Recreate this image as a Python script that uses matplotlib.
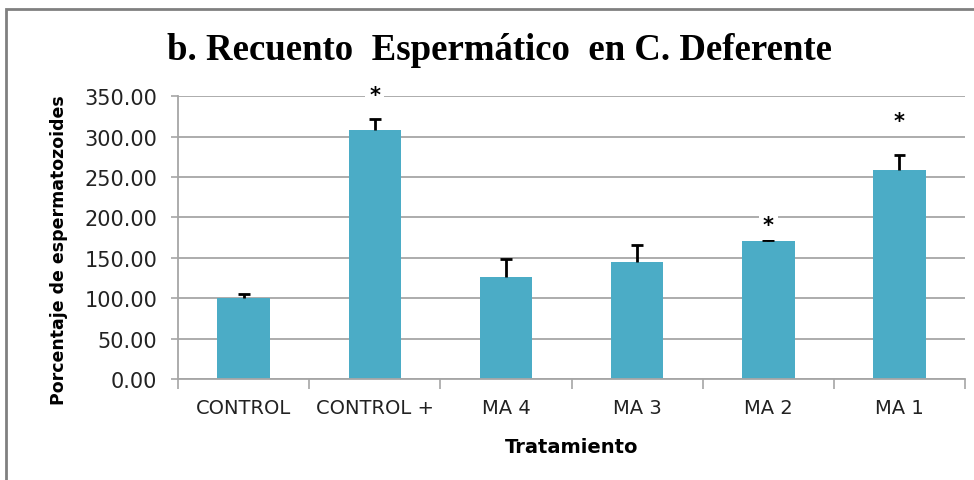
import matplotlib.pyplot as plt
from matplotlib.patches import Rectangle

categories = ["CONTROL", "CONTROL +", "MA 4", "MA 3", "MA 2", "MA 1"]
means = [100.0, 308.3, 125.8, 145.0, 170.7, 258.9]
errors = [5.0, 14.0, 22.6, 21.0, 1.5, 18.0]
star_index = [1, 4, 5]
star_y = [352, 190, 319]
yticks = [0, 50, 100, 150, 200, 250, 300, 350]

BAR_COLOR = "#4BACC6"
GRID_COLOR = "#A6A6A6"

fig = plt.figure(figsize=(9.74, 4.81), dpi=100)
ax = fig.add_axes([0.1828, 0.210, 0.808, 0.588])

x = list(range(len(categories)))
tops = [m + e for m, e in zip(means, errors)]
ax.bar(x, means, width=0.4, color=BAR_COLOR, zorder=2)
# only the upper half of each error bar is shown
ax.vlines(x, means, tops, color="black", linewidth=2, zorder=3)
ax.hlines(tops, [i - 0.045 for i in x], [i + 0.045 for i in x],
          color="black", linewidth=2, zorder=3)

for i, yv in zip(star_index, star_y):
    ax.text(i, yv, "*", ha="center", va="center", fontsize=15, fontweight="bold",
            family="DejaVu Sans",
            bbox=dict(facecolor="white", edgecolor="none", pad=3), zorder=4)

ax.set_xlim(-0.5, len(categories) - 0.5)
ax.set_ylim(0, 350)
ax.set_yticks(yticks)
ax.set_yticklabels([f"{v:.2f}" for v in yticks], fontsize=15, family="DejaVu Sans",
                   color="#222222")
ax.yaxis.grid(True, color=GRID_COLOR, linewidth=1.3, zorder=0)
ax.set_axisbelow(True)

ax.set_xticks([i + 0.5 for i in range(-1, len(categories))])
ax.set_xticklabels([])
ax.set_xticks(x, minor=True)
ax.set_xticklabels(categories, minor=True, fontsize=14,
                   family="DejaVu Sans", color="#222222")
ax.tick_params(axis="x", which="minor", length=0, pad=14)
ax.tick_params(axis="x", which="major", length=7, color=GRID_COLOR, width=1.2)
ax.tick_params(axis="y", length=5, color=GRID_COLOR, width=1.2, pad=10)

for side in ["top", "right"]:
    ax.spines[side].set_visible(False)
for side in ["left", "bottom"]:
    ax.spines[side].set_color(GRID_COLOR)
    ax.spines[side].set_linewidth(1.3)

ax.set_xlabel("Tratamiento", fontsize=14, fontweight="bold",
              family="DejaVu Sans", labelpad=14)
ax.set_ylabel("Porcentaje de espermatozoides", fontsize=12.5, fontweight="bold",
              family="DejaVu Sans")
ax.yaxis.set_label_coords(-0.140, 0.46)

fig.text(0.513, 0.895, "b. Recuento  Espermático  en C. Deferente", ha="center",
         va="center", fontsize=26.5, fontweight="bold", family="Liberation Serif")

fig.patches.append(Rectangle((6 / 974, -0.1), 1.2, 1.1 - 10 / 481,
                             transform=fig.transFigure, fill=False,
                             edgecolor="#808080", linewidth=2))

fig.savefig("out.png", dpi=100)
